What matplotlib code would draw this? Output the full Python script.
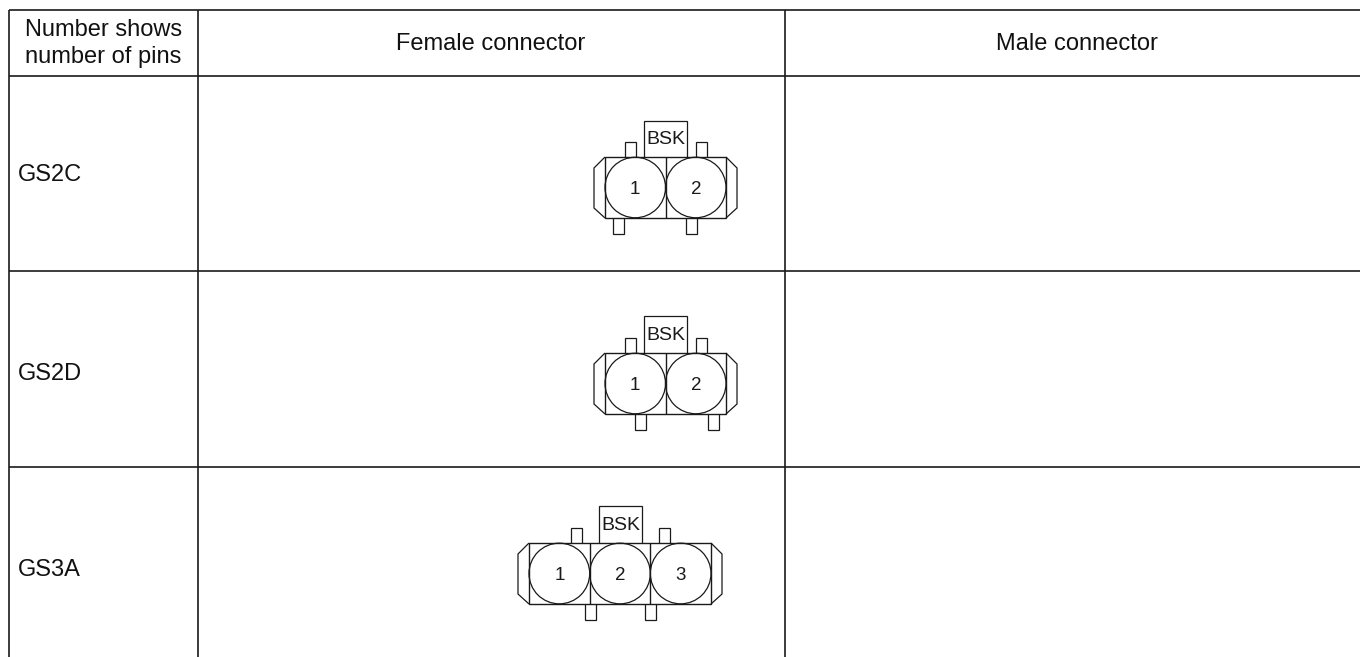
import matplotlib
matplotlib.use("Agg")
import matplotlib.pyplot as plt
from matplotlib.patches import Circle, Rectangle

plt.rcParams['font.family'] = ['Liberation Sans', 'DejaVu Sans']

W, H = 1360, 657
LINE = '#1a1a1a'

headers = ['Number shows\nnumber of pins', 'Female connector', 'Male connector']
rows = ['GS2C', 'GS2D', 'GS3A']
col_lines = [9, 198, 785]
row_lines = [10, 76, 271, 467]
header_x = [103.5, 490.5, 1077]
row_y = [175, 373.5, 570.5]

# pixel positions of each connector: left, right, body top, body bottom
bodies = [(605, 726, 157, 218), (605, 726, 353, 414), (529, 711, 543, 604)]
pins = [2, 2, 3]
bsk_boxes = [(644, 687, 121), (644, 687, 316), (599, 642, 506)]
top_tabs = [[625, 696], [625, 696], [571, 659]]
bottom_tabs = [[613, 686], [635, 708], [585, 645]]


def line(ax, xs, ys, lw=1.0):
    ax.plot(xs, ys, color=LINE, lw=lw, solid_capstyle='butt', solid_joinstyle='miter')


def draw_connector(ax, body, n, bsk, top, bottom):
    x0, x1, y0, y1 = body
    cell = (x1 - x0) / n
    tab_w, tab_h = 11, 15

    # tabs and key box sit behind the body outline
    for x in top:
        line(ax, [x, x, x + tab_w, x + tab_w], [y0, y0 - tab_h, y0 - tab_h, y0], 0.9)
    for x in bottom:
        line(ax, [x, x, x + tab_w, x + tab_w], [y1, y1 + tab_h + 1, y1 + tab_h + 1, y1], 0.9)
    bx0, bx1, by = bsk
    line(ax, [bx0, bx0, bx1, bx1], [y0, by, by, y0], 0.9)
    ax.text((bx0 + bx1) / 2, (by + y0) / 2 + 1, 'BSK', ha='center', va='center',
            fontsize=14, color=LINE)

    ax.add_patch(Rectangle((x0, y0), x1 - x0, y1 - y0, fill=False, ec=LINE, lw=1.0))
    for i in range(n):
        cx = x0 + cell * (i + 0.5)
        cy = (y0 + y1) / 2
        ax.add_patch(Circle((cx, cy), cell / 2, fill=False, ec=LINE, lw=0.9))
        ax.text(cx, cy + 2, str(i + 1), ha='center', va='center', fontsize=13.5, color=LINE)
        if i > 0:
            line(ax, [x0 + cell * i] * 2, [y0, y1], 1.0)

    # side latches
    line(ax, [x0, x0 - 11, x0 - 11, x0], [y0, y0 + 11, y1 - 10, y1], 0.9)
    line(ax, [x1, x1 + 11, x1 + 11, x1], [y0, y0 + 11, y1 - 10, y1], 0.9)


fig = plt.figure(figsize=(W / 100, H / 100), dpi=100)
ax = fig.add_axes([0, 0, 1, 1])
ax.set_xlim(0, W)
ax.set_ylim(H, 0)
ax.axis('off')

for x in col_lines:
    line(ax, [x, x], [row_lines[0], H], 1.2)
for y in row_lines:
    line(ax, [col_lines[0], W], [y, y], 1.2)

for x, label in zip(header_x, headers):
    ax.text(x, 43.5, label, ha='center', va='center', fontsize=17,
            color='#111111', linespacing=1.24)
for y, label in zip(row_y, rows):
    ax.text(18, y, label, ha='left', va='center', fontsize=17, color='#111111')

for b, n, k, t, bt in zip(bodies, pins, bsk_boxes, top_tabs, bottom_tabs):
    draw_connector(ax, b, n, k, t, bt)

fig.savefig('out.png', dpi=100, facecolor='white')
